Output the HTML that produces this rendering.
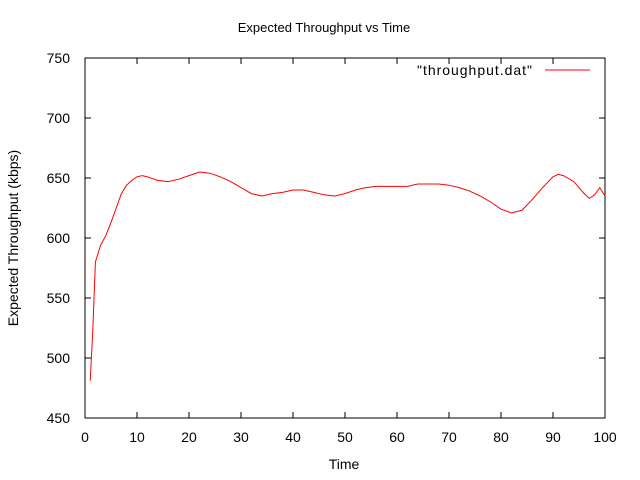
<!DOCTYPE html>
<html><head><meta charset="utf-8"><style>
body{margin:0;background:#fff}
svg{display:block;font-family:"Liberation Sans",sans-serif;font-size:13px}
</style></head><body>
<svg id="chart" width="640" height="480" viewBox="0 0 640 480">
<rect width="640" height="480" fill="#fff"/>
<text x="324" y="32" text-anchor="middle">Expected Throughput vs Time</text>
<text x="344" y="469" text-anchor="middle" font-size="14">Time</text>
<text transform="translate(18,238) rotate(-90)" text-anchor="middle" font-size="14">Expected Throughput (kbps)</text>
<g id="axes" font-size="14"></g>
<rect x="85" y="58" width="520" height="360" fill="none" stroke="#000" stroke-width="1"/>
<g>
<text x="417" y="75" textLength="115" font-size="14">"throughput.dat"</text>
<line x1="545" y1="70" x2="590" y2="70" stroke="#f00" stroke-width="1"/>
</g>
<path id="line" fill="none" stroke="#f00" stroke-width="1"/>
</svg>
<script>
const xTicks=[0,10,20,30,40,50,60,70,80,90,100];
const yTicks=[450,500,550,600,650,700,750];
const times=[1,1.5,2,3,4,5,6,7,8,9,10,11,12,14,16,18,20,22,24,26,28,30,32,34,36,38,40,42,44,46,48,50,52,54,56,58,60,62,64,66,68,70,72,74,76,78,80,82,84,86,88,90,91,92,94,96,97,98,99,100];
const throughput=[481,523,580,594,602,613,625,637,644,648,651,652,651,648,647,649,652,655,654,651,647,642,637,635,637,638,640,640,638,636,635,637,640,642,643,643,643,643,645,645,645,644,642,639,635,630,624,621,623,632,642,651,653,652,647,637,633,636,642,635];
const X=v=>85+v*5.2, Y=v=>418-(v-450)*1.2;
const ax=document.getElementById('axes');
const NS='http://www.w3.org/2000/svg';
function mk(t,a){const e=document.createElementNS(NS,t);for(const k in a)e.setAttribute(k,a[k]);ax.appendChild(e);return e;}
xTicks.forEach(v=>{
 const l=mk('path',{d:`M${X(v)},418v-6M${X(v)},58v6`,stroke:'#000'});
 
 
 const t=mk('text',{x:X(v),y:442,'text-anchor':'middle'});t.textContent=v;
 
 
});
yTicks.forEach(v=>{
 const l=mk('path',{d:`M85,${Y(v)}h6M605,${Y(v)}h-6`,stroke:'#000'});
 
 
 const t=mk('text',{x:70,y:Y(v)+5,'text-anchor':'end'});t.textContent=v;
 
 
});
document.getElementById('line').setAttribute('d',times.map((t,i)=>(i?'L':'M')+X(t).toFixed(1)+','+Y(throughput[i]).toFixed(1)).join(''));
</script>
</body></html>
